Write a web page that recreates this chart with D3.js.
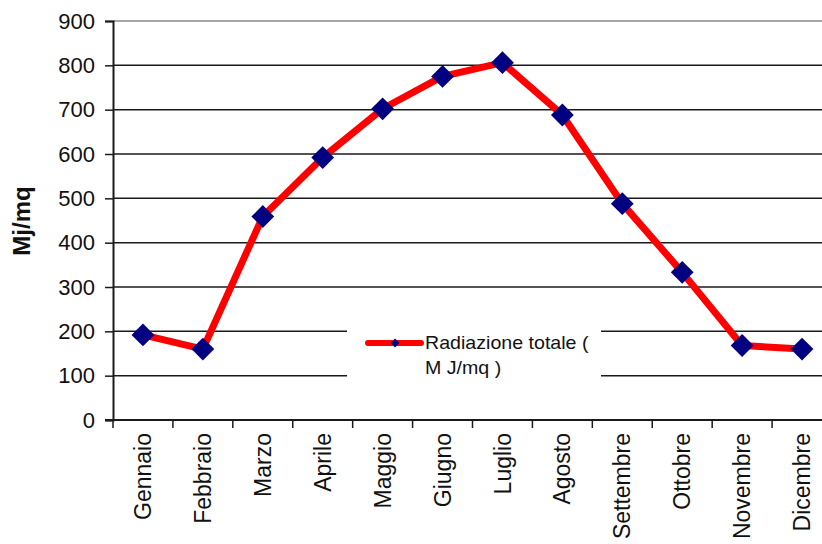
<!DOCTYPE html>
<html>
<head>
<meta charset="utf-8">
<script src="https://cdn.jsdelivr.net/npm/d3@7"></script>
<style>
  html, body { margin: 0; padding: 0; background: #fff; }
  svg { display: block; font-family: "Liberation Sans", Arial, sans-serif; }
</style>
</head>
<body>
<svg id="chart" width="822" height="544"></svg>
<script>
// Monthly total solar radiation (MJ/mq)
const months = ["Gennaio", "Febbraio", "Marzo", "Aprile", "Maggio", "Giugno",
                "Luglio", "Agosto", "Settembre", "Ottobre", "Novembre", "Dicembre"];
const radiation = [192, 160, 459, 592, 702, 775, 806, 688, 488, 333, 168, 160];
const yTicks = [0, 100, 200, 300, 400, 500, 600, 700, 800, 900];
const seriesName = ["Radiazione totale (", "M J/mq )"];
const yTitle = "Mj/mq";

const svg = d3.select("#chart");
const plotLeft = 113, plotRight = 832, plotTop = 21, plotBottom = 420;

const x = d3.scaleBand().domain(months).range([plotLeft, plotRight]).padding(0);
const y = d3.scaleLinear().domain([0, 900]).range([plotBottom, plotTop]);

// horizontal gridlines
svg.append("g").selectAll("line").data(yTicks.filter(d => d > 0)).join("line")
  .attr("x1", plotLeft).attr("x2", 822)
  .attr("y1", d => y(d)).attr("y2", d => y(d))
  .attr("stroke", d => d === 900 ? "#8a8a8a" : "#1a1a1a")
  .attr("stroke-width", 1.5);

// y axis
const yAxis = svg.append("g").attr("transform", `translate(${plotLeft},0)`)
  .call(d3.axisLeft(y).tickValues(yTicks).tickSize(8).tickPadding(10));
yAxis.select(".domain").attr("stroke", "#1a1a1a").attr("stroke-width", 2);
yAxis.selectAll(".tick line").attr("stroke", "#1a1a1a").attr("stroke-width", 1.5);
yAxis.selectAll(".tick text").attr("font-size", 22).attr("fill", "#111")
  .attr("font-family", "Liberation Sans, Arial, sans-serif");

// x axis: ticks on category boundaries, labels at centers
svg.append("line").attr("x1", plotLeft - 8).attr("x2", 822)
  .attr("y1", plotBottom).attr("y2", plotBottom)
  .attr("stroke", "#1a1a1a").attr("stroke-width", 2);
svg.append("g").selectAll("line").data(months).join("line")
  .attr("x1", d => x(d)).attr("x2", d => x(d))
  .attr("y1", plotBottom).attr("y2", plotBottom + 8)
  .attr("stroke", "#1a1a1a").attr("stroke-width", 1.5);
svg.append("g").selectAll("text").data(months).join("text")
  .attr("transform", d => `translate(${x(d) + x.bandwidth() / 2},${plotBottom + 13}) rotate(-90)`)
  .attr("text-anchor", "end").attr("dy", "0.35em")
  .attr("font-size", 23).attr("fill", "#111")
  .text(d => d);

// y axis title
svg.append("text")
  .attr("transform", "translate(22,221) rotate(-90)")
  .attr("text-anchor", "middle").attr("dy", "0.35em")
  .attr("font-size", 24).attr("font-weight", "bold").attr("fill", "#111")
  .text(yTitle);

// legend box (drawn over the gridlines)
const lg = svg.append("g");
lg.append("rect").attr("x", 347).attr("y", 318).attr("width", 254).attr("height", 66)
  .attr("fill", "#fff");
lg.append("line").attr("x1", 368).attr("x2", 421).attr("y1", 343).attr("y2", 343)
  .attr("stroke", "#ff0000").attr("stroke-width", 6).attr("stroke-linecap", "round");
lg.append("path").attr("d", d3.symbol(d3.symbolSquare, 40)())
  .attr("transform", "translate(395,343) rotate(45)").attr("fill", "#000080");
lg.selectAll("text").data(seriesName).join("text")
  .attr("transform", (d, i) => `translate(425,${349 + i * 25}) scale(1.09,1)`)
  .attr("font-size", 18).attr("fill", "#111")
  .text(d => d);

// series line and markers
const pts = months.map((m, i) => ({ m, v: radiation[i] }));
const cx = d => x(d.m) + x.bandwidth() / 2;
svg.append("path").datum(pts)
  .attr("d", d3.line().x(cx).y(d => y(d.v)))
  .attr("fill", "none").attr("stroke", "#ff0000").attr("stroke-width", 7)
  .attr("stroke-linejoin", "round");
svg.append("g").selectAll("path").data(pts).join("path")
  .attr("d", d3.symbol(d3.symbolSquare, 260)())
  .attr("transform", d => `translate(${cx(d)},${y(d.v)}) rotate(45)`)
  .attr("fill", "#000080");
</script>
</body>
</html>
